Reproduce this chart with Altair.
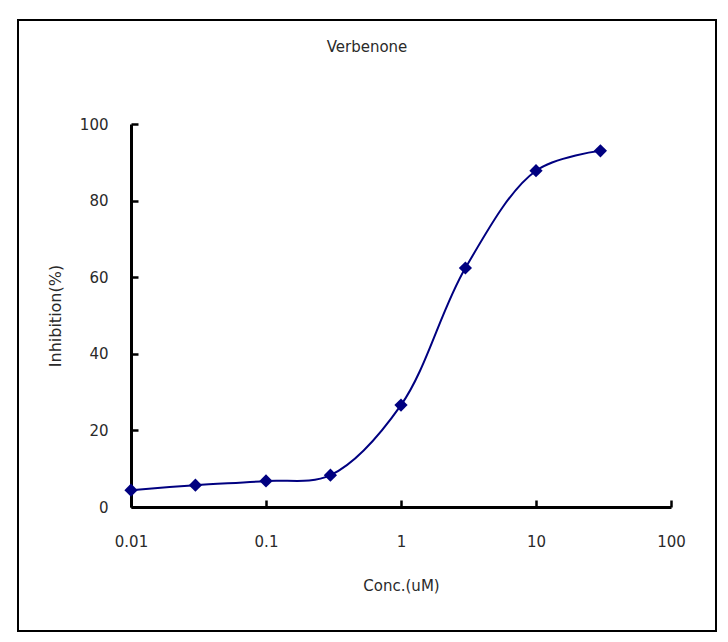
import altair as alt
import pandas as pd

conc = [0.01, 0.03, 0.1, 0.3, 1, 3, 10, 30]
inhibition = [4.4, 5.7, 6.8, 8.3, 26.6, 62.4, 87.8, 93.0]
x_ticks = [0.01, 0.1, 1, 10, 100]
y_ticks = [0, 20, 40, 60, 80, 100]
chart_title = ["Verbenone"]

df = pd.DataFrame({"conc": conc, "inh": inhibition})

FONT = "DejaVu Sans"
TXT = "#2a2a2a"
NAVY = "#000080"

xscale = alt.Scale(type="log", domain=[0.01, 100], nice=False)
yscale = alt.Scale(domain=[0, 100], nice=False, zero=False)

xaxis = alt.Axis(
    values=x_ticks, format="~g", title="Conc.(uM)", grid=False,
    domainColor="black", domainWidth=3, tickColor="black", tickWidth=2.5,
    tickSize={"expr": "-7"}, labelPadding=34, labelFont=FONT, labelFontSize=15,
    labelColor=TXT, titleFont=FONT, titleFontSize=15, titleFontWeight="normal",
    titleColor=TXT, titleY=78, titleBaseline="middle", labelFlush=False,
)
yaxis = alt.Axis(
    values=y_ticks, title="Inhibition(%)", grid=False,
    domainColor="black", domainWidth=3, tickColor="black", tickWidth=2.5,
    tickSize={"expr": "-7"}, labelPadding=30, labelFont=FONT, labelFontSize=15,
    labelColor=TXT, titleFont=FONT, titleFontSize=16, titleFontWeight="normal",
    titleColor=TXT, titleX=-76, titleY=191.5, titleAngle=-90,
    titleBaseline="middle", titleAlign="center", labelFlush=False,
)

base = alt.Chart(df)

line = base.mark_line(interpolate="catmull-rom", color=NAVY, strokeWidth=2).encode(
    x=alt.X("conc:Q", scale=xscale, axis=xaxis),
    y=alt.Y("inh:Q", scale=yscale, axis=yaxis),
)
pts = base.mark_point(shape="diamond", filled=True, color=NAVY, size=175, opacity=1).encode(
    x=alt.X("conc:Q", scale=xscale),
    y=alt.Y("inh:Q", scale=yscale),
)

one = pd.DataFrame({"t": chart_title})

frame = alt.Chart(one).mark_rect(
    fill=None, stroke="black", strokeWidth=2
).encode(
    x=alt.value(-113), x2=alt.value(585), y=alt.value(-104), y2=alt.value(507)
)

title = alt.Chart(one).mark_text(
    font=FONT, fontSize=15, color=TXT, align="center", baseline="middle"
).encode(
    text="t:N", x=alt.value(236), y=alt.value(-77)
)

chart = alt.layer(frame, line, pts, title).properties(
    width=540, height=383,
    autosize=alt.AutoSizeParams(type="none"),
    padding={"left": 131, "top": 124, "right": 57, "bottom": 135},
).configure_view(stroke=None)

chart.save("out.html", embed_options={"renderer": "svg", "actions": False})
